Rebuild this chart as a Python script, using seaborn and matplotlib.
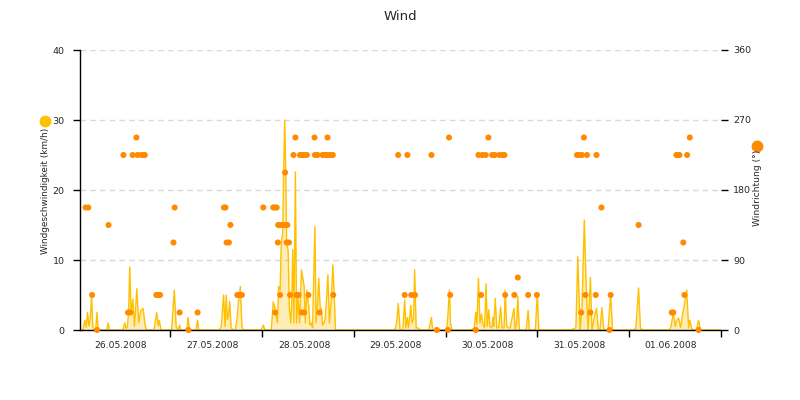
import matplotlib
matplotlib.use("Agg")
import matplotlib.pyplot as plt
import matplotlib.dates as mdates
from matplotlib.ticker import NullFormatter
from matplotlib.lines import Line2D
import pandas as pd
import seaborn as sns

# ---------------- data ----------------
start = pd.Timestamp("2008-05-26 00:00")
end = pd.Timestamp("2008-06-02 00:00")

# wind speed (km/h): hours since 26.05.2008 00:00 and value
speed_hours = [
    0.3, 1.06, 1.6, 1.95, 2.3, 2.65, 3.0, 3.35, 3.7, 4.2, 4.45, 4.75, 5.1, 7.35, 7.7, 8.05,
    11.55, 12.05, 12.4, 12.75, 13.05, 13.35, 13.7, 14.15, 14.6, 15.2, 15.7, 16.25, 16.85, 17.3, 17.65,
    19.7, 20.4, 20.8, 21.1, 21.5,
    24.3, 25.0, 25.5, 26.0, 26.4, 26.7, 28.3, 28.6, 29.0, 30.7, 31.1, 31.4,
    36.9, 37.3, 37.9, 38.3, 38.6, 38.9, 39.2, 39.5, 39.9, 40.5, 41.0, 41.4, 41.8, 42.3, 42.7, 43.1,
    47.8, 48.3, 48.7,
    50.4, 50.9, 51.3, 51.6, 52.0, 52.3, 52.7, 53.0, 53.4, 53.6, 53.9, 54.2, 54.4, 54.8, 55.1, 55.5,
    55.7, 56.0, 56.3, 56.7, 57.0, 57.4, 57.8, 58.3, 58.6, 59.0, 59.3, 59.7, 60.2, 60.5, 60.9, 61.2,
    61.8, 62.1, 62.5, 62.8, 63.2, 63.5, 63.8, 64.2, 64.5, 64.9, 65.2, 65.6, 66.1, 66.5, 66.8, 67.2,
    82.7, 83.2, 83.6, 84.1, 84.8, 85.3, 85.6, 86.0, 86.3, 86.9, 87.2, 87.6, 87.9, 88.3, 88.8, 89.3,
    91.6, 92.3, 92.6,
    96.3, 96.6, 97.0, 97.3, 97.7,
    102.7, 103.5, 103.9, 104.2, 104.6, 105.0, 105.4, 105.7, 106.2, 106.6, 106.9, 107.3, 107.6,
    108.1, 108.4, 108.6, 109.0, 109.4, 109.9, 110.4, 110.8, 111.3, 111.6, 112.0, 112.4, 112.9,
    113.9, 114.2, 114.6, 114.9, 115.3,
    117.1, 117.6, 117.9, 119.5, 120.0, 120.4,
    128.9, 129.6, 130.1, 130.6, 131.2, 131.7, 132.3, 132.8, 133.3, 133.9, 134.3, 135.0, 135.5,
    136.0, 136.4, 136.9, 137.4, 138.5, 139.2, 139.7,
    145.1, 145.8, 146.5, 147.0, 147.7,
    154.6, 155.0, 155.6, 156.1, 156.5, 157.0, 157.5, 158.0, 158.5, 159.1, 159.6, 159.9, 160.5,
    161.7, 162.2, 162.7, 168.0,
]
speed_kmh = [
    0, 0, 1.4, 0.4, 2.5, 0.6, 1.5, 5, 0.4, 0, 0, 2.5, 0, 0, 1, 0,
    0, 1, 0.2, 0.5, 2.5, 9, 2.3, 4.4, 0.5, 5.9, 1, 2.8, 3.1, 1, 0,
    0, 2.5, 0.6, 1.4, 0,
    0, 5.7, 0.5, 0, 0.7, 0, 0, 1.8, 0, 0, 1.4, 0,
    0, 0.5, 5, 0.5, 5, 1.5, 2, 4.1, 0.3, 0, 0, 1.5, 4, 6.2, 0.5, 0,
    0, 0.7, 0,
    0, 4, 3.3, 2.4, 1, 6.2, 5.7, 12.4, 14, 22, 30, 22, 12.4, 11.4, 3.3, 1,
    3, 11.5, 1, 22.6, 1, 4.8, 1, 8.6, 7.6, 6.2, 1, 5.7, 3.3, 0.7, 1, 0.3,
    14.8, 1, 3.8, 7.4, 3, 3.1, 0.7, 1, 1.7, 4.8, 7.9, 1, 4.3, 9.3, 5.7, 0,
    0, 1, 3.8, 0, 0, 4.3, 0.3, 1.8, 0.3, 3.5, 1, 1.5, 8.6, 0.3, 0.3, 0,
    0, 1.8, 0,
    0, 2, 5.7, 1, 0,
    0, 0.3, 2.5, 0.8, 7.4, 1, 2.3, 1, 0.3, 6.6, 0.5, 2.9, 0.5,
    0.3, 1.8, 0.5, 4.5, 0.3, 0.3, 3.3, 0.3, 0.3, 5.7, 0.5, 0.3, 0.3,
    3.1, 0, 1, 4.8, 0,
    0, 2.8, 0, 0, 5.2, 0,
    0, 0.2, 0.3, 10.5, 0, 3, 15.7, 6, 0, 7.5, 0, 2, 3.1,
    0, 0, 3.2, 0, 0, 5, 0,
    0, 0.2, 6, 0.2, 0,
    0, 0.5, 2.5, 0.5, 1.4, 1.7, 0.3, 2.2, 3.6, 5.7, 0.3, 1.4, 0,
    0, 1.4, 0, 0,
]

# wind direction (degrees): hours since 26.05.2008 00:00 and value
dir_hours = [
    1.8, 2.5, 3.5, 4.8, 7.8, 11.7, 12.9, 13.5, 14.1, 15.1, 15.4, 16.4, 16.9, 17.3,
    20.3, 20.8, 21.3, 24.8, 25.1, 26.4, 28.7, 31.1, 38.0, 38.4, 38.7, 39.3, 39.7,
    41.5, 42.1, 42.7,
    48.3, 50.9, 51.3, 51.8, 51.4, 52.1, 52.2, 52.7, 53.2, 53.6, 54.1, 54.6, 52.7,
    54.0, 54.4, 55.0, 55.3, 56.2, 56.7, 57.0, 57.5, 57.9, 58.4, 59.0, 59.7, 58.4,
    59.0, 60.1, 61.7, 61.8, 62.5, 63.0, 63.8, 64.5, 65.1, 65.1, 65.8, 66.5, 66.6,
    83.6, 85.3, 86.0, 87.0, 88.0, 92.3, 93.7, 96.6, 96.9, 97.2, 103.9, 104.6, 105.3,
    105.6, 106.5, 107.2, 108.2, 108.9, 110.1, 110.9, 111.4, 111.6, 114.0, 114.9,
    117.6, 119.9,
    130.4, 130.9, 131.5, 131.7, 132.2, 132.6, 133.0, 133.9, 135.3, 135.5, 136.8,
    138.9, 139.2, 146.5, 155.2, 155.6, 156.4, 156.8, 157.2, 158.2, 158.5, 159.2,
    159.9, 162.2,
]
dir_deg = [
    157.5, 157.5, 45, 0, 135, 225, 22.5, 22.5, 225, 247.5, 225, 225, 225, 225,
    45, 45, 45, 112.5, 157.5, 22.5, 0, 22.5, 157.5, 157.5, 112.5, 112.5, 135,
    45, 45, 45,
    157.5, 157.5, 157.5, 157.5, 22.5, 112.5, 135, 135, 135, 135, 135, 135, 45,
    202.5, 112.5, 112.5, 45, 225, 247.5, 45, 45, 225, 225, 225, 225, 22.5,
    22.5, 45, 247.5, 225, 225, 22.5, 225, 225, 225, 247.5, 225, 225, 45,
    225, 45, 225, 45, 45, 225, 0, 0, 247.5, 45, 0, 225, 45,
    225, 225, 247.5, 225, 225, 225, 225, 225, 45, 45, 67.5,
    45, 45,
    225, 225, 22.5, 225, 247.5, 45, 225, 22.5, 45, 225, 157.5,
    0, 45, 135, 22.5, 22.5, 225, 225, 225, 112.5, 45, 225,
    247.5, 0,
]

speed_ticks = [0, 10, 20, 30, 40]
dir_ticks = [0, 90, 180, 270, 360]

# ---------------- style ----------------
YELLOW = "#FFC000"
ORANGE = "#FF8A00"
sns.set_style("white")
plt.rcParams["font.family"] = ["DejaVu Sans"]

speed_df = pd.DataFrame({"time": start + pd.to_timedelta(speed_hours, unit="h"),
                         "speed": speed_kmh})
dir_df = pd.DataFrame({"time": start + pd.to_timedelta(dir_hours, unit="h"),
                       "deg": dir_deg})

fig = plt.figure(figsize=(8, 4), dpi=100)
ax = fig.add_axes([0.1, 0.175, 0.8009, 0.7])

ax.fill_between(speed_df["time"], 0, speed_df["speed"], color=YELLOW, alpha=0.28, linewidth=0)
sns.lineplot(data=speed_df, x="time", y="speed", ax=ax, color=YELLOW, linewidth=1)

ax.set_ylim(0, 40)
ax.set_yticks(speed_ticks)
ax.set_xlim(start + pd.Timedelta(minutes=20), end)
ax.set_xlabel("")
ax.set_ylabel("")
ax.xaxis.set_major_locator(mdates.DayLocator())
ax.xaxis.set_major_formatter(NullFormatter())
ax.xaxis.set_minor_locator(mdates.HourLocator(byhour=[11]))
ax.xaxis.set_minor_formatter(mdates.DateFormatter("%d.%m.%Y"))
ax.tick_params(axis="x", which="major", length=5, width=1, direction="out", color="black", bottom=True)
ax.tick_params(axis="x", which="minor", length=0, labelsize=6.6, pad=8, bottom=True)
ax.tick_params(axis="y", length=5, width=1, direction="out", labelsize=6.8, pad=6, color="black", left=True)
ax.yaxis.grid(True, color="#d9d9d9", linestyle=(0, (4, 3)), linewidth=1)
ax.xaxis.grid(False)
for s in ["top", "right"]:
    ax.spines[s].set_visible(False)
for s in ["left", "bottom"]:
    ax.spines[s].set_color("black")
    ax.spines[s].set_linewidth(1)

ax2 = ax.twinx()
sns.scatterplot(data=dir_df, x="time", y="deg", ax=ax2, color=ORANGE, s=19,
                edgecolor="none", linewidth=0, clip_on=False, zorder=5)
ax2.set_ylim(0, 360)
ax2.set_yticks(dir_ticks)
ax2.set_xlim(start + pd.Timedelta(minutes=20), end)
ax2.set_ylabel("")
ax2.set_xlabel("")
ax2.grid(False)
for s in ["top", "right", "left", "bottom"]:
    ax2.spines[s].set_visible(False)
ax2.tick_params(axis="y", length=5, width=1, direction="out", labelsize=6.8, pad=4, color="black", right=True)

fig.text(0.5, 1 - 16 / 400, "Wind", ha="center", va="center", fontsize=9.5)
fig.text(46 / 800, 1 - 191 / 400, "Windgeschwindigkeit (km/h)", rotation=90,
         ha="center", va="center", fontsize=6.4)
fig.text(758 / 800, 1 - 188 / 400, "Windrichtung (°)", rotation=90,
         ha="center", va="center", fontsize=6.6)
fig.add_artist(Line2D([45 / 800], [1 - 121 / 400], transform=fig.transFigure, marker="o",
                      markersize=7.5, color=YELLOW, linestyle="none"))
fig.add_artist(Line2D([757 / 800], [1 - 146 / 400], transform=fig.transFigure, marker="o",
                      markersize=7.5, color=ORANGE, linestyle="none"))

fig.savefig("out.png", dpi=100)
